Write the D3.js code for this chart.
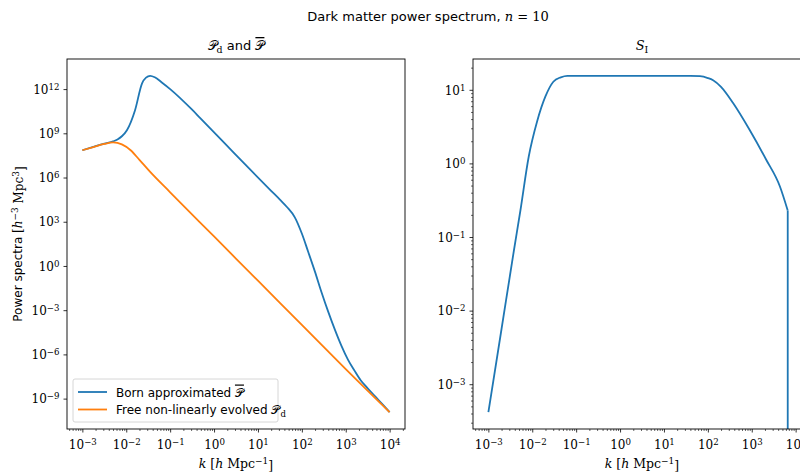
<!DOCTYPE html>
<html><head><meta charset="utf-8">
<script src="https://cdn.jsdelivr.net/npm/d3@7"></script>
<style>body{margin:0;background:#fff}svg{display:block}</style>
</head><body><div id="c"></div>
<script>
// ---- data (log10 values) ----
const bornLogK = [-3.0,-2.75,-2.5,-2.3,-2.2,-2.1,-1.985,-1.8,-1.64,-1.55,-1.455,-1.35,-1.19,-1.0,-0.5,-0.32,0.25,0.82,1.3,1.5,1.66,1.84,2.0,2.14,2.3,2.45,2.6,2.75,2.9,3.05,3.2,3.34,3.5,3.67,3.85,4.0];
const bornLogP = [7.85,8.08,8.3,8.45,8.58,8.8,9.21,10.57,12.39,12.78,12.9,12.8,12.45,12.0,10.6,10.05,8.3,6.55,5.1,4.5,4.0,3.3,2.2,1.0,-0.4,-1.8,-3.1,-4.3,-5.4,-6.35,-7.1,-7.75,-8.3,-8.85,-9.42,-9.92];
const freeLogK = [-3.0,-2.75,-2.5,-2.3,-2.1,-1.9,-1.7,-1.455,-1.0,0.0,1.0,2.0,3.0,4.0];
const freeLogP = [7.85,8.07,8.28,8.38,8.25,7.85,7.2,6.38,5.0,2.0,-1.0,-4.0,-7.0,-9.92];
const siLogK = [-3.0,-2.70,-2.42,-2.27,-2.08,-1.89,-1.70,-1.52,-1.35,-1.2,-1.0,0.0,1.0,1.6,1.82,2.0,2.12,2.3,2.575,2.95,3.33,3.64,3.82];
const siLogS = [-3.38,-2.25,-1.19,-0.64,0.094,0.57,0.91,1.11,1.17,1.19,1.19,1.19,1.19,1.19,1.185,1.16,1.13,1.04,0.82,0.457,0.05,-0.31,-0.64];
const siDropLogS = -8; // S_I collapses to ~0 beyond the last point
const xTickExps = [-3,-2,-1,0,1,2,3,4];
const leftYTickExps = [-9,-6,-3,0,3,6,9,12];
const rightYTickExps = [-3,-2,-1,0,1];
const seriesNames = ["Born approximated ", "Free non-linearly evolved "];
const colors = ["#1f77b4", "#ff7f0e"];

// ---- layout ----
const W = 800, H = 473;
const svg = d3.select("#c").append("svg").attr("width", W).attr("height", H)
  .style("font-family", "'DejaVu Sans', sans-serif");
const L = {x0: 67, x1: 405, y0: 59, y1: 429};
const R = {x0: 473, x1: 811, y0: 59, y1: 429};

function pad(lo, hi){ const m = (hi-lo)*0.05; return [Math.pow(10, lo-m), Math.pow(10, hi+m)]; }
const xDom = pad(-3, 4);
const allLeft = bornLogP.concat(freeLogP);
const xL = d3.scaleLog().domain(xDom).range([L.x0, L.x1]);
const yL = d3.scaleLog().domain(pad(d3.min(allLeft), d3.max(allLeft))).range([L.y1, L.y0]);
const xR = d3.scaleLog().domain(xDom).range([R.x0, R.x1]);
const yR = d3.scaleLog().domain(pad(d3.min(siLogS), d3.max(siLogS))).range([R.y1, R.y0]);

const serif = "'DejaVu Serif', serif";
const tickFS = 12;

function minorVals(dom){
  const out = [];
  const lo = Math.floor(Math.log10(dom[0])), hi = Math.ceil(Math.log10(dom[1]));
  for (let e = lo; e <= hi; e++) for (let m = 2; m <= 9; m++) {
    const v = m*Math.pow(10, e); if (v >= dom[0] && v <= dom[1]) out.push(v);
  }
  return out;
}
function expLabel(sel){
  sel.each(function(d){
    const t = d3.select(this); const e = Math.round(Math.log10(d));
    t.text(null).style("font-family", serif).style("font-size", tickFS+"px").attr("fill", "#000");
    t.append("tspan").text("10");
    t.append("tspan").attr("dy", "-0.45em").style("font-size", (tickFS*0.72)+"px")
      .text(e < 0 ? "\u2212" + (-e) : String(e));
  });
}

function drawAxes(box, x, y, yTicks, yMinor, clipId){
  const g = svg.append("g");
  g.append("clipPath").attr("id", clipId).append("rect")
    .attr("x", box.x0).attr("y", box.y0).attr("width", box.x1-box.x0).attr("height", box.y1-box.y0);
  g.append("g").attr("transform", `translate(0,${box.y1})`)
    .call(d3.axisBottom(x).tickValues(minorVals(x.domain())).tickSize(2).tickFormat(""))
    .call(s => s.select(".domain").remove()).selectAll("line").attr("stroke-width", 0.6);
  const xa = g.append("g").attr("transform", `translate(0,${box.y1})`)
    .call(d3.axisBottom(x).tickValues(xTickExps.map(e => Math.pow(10, e))).tickSize(3.5).tickPadding(4));
  xa.select(".domain").remove();
  xa.selectAll("line").attr("stroke-width", 0.8);
  xa.selectAll("text").call(expLabel).attr("dy", "1.05em");
  if (yMinor){
    g.append("g").attr("transform", `translate(${box.x0},0)`)
      .call(d3.axisLeft(y).tickValues(minorVals(y.domain())).tickSize(2).tickFormat(""))
      .call(s => s.select(".domain").remove()).selectAll("line").attr("stroke-width", 0.6);
  }
  const ya = g.append("g").attr("transform", `translate(${box.x0},0)`)
    .call(d3.axisLeft(y).tickValues(yTicks.map(e => Math.pow(10, e))).tickSize(3.5).tickPadding(4));
  ya.select(".domain").remove();
  ya.selectAll("line").attr("stroke-width", 0.8);
  ya.selectAll("text").call(expLabel).attr("dy", "0.35em");
  return g;
}
function frame(box){
  svg.append("rect").attr("x", box.x0).attr("y", box.y0).attr("width", box.x1-box.x0)
    .attr("height", box.y1-box.y0).attr("fill", "none").attr("stroke", "#000").attr("stroke-width", 0.9);
}

drawAxes(L, xL, yL, leftYTickExps, false, "clipL");
drawAxes(R, xR, yR, rightYTickExps, true, "clipR");

const lineL = d3.line().x(d => xL(Math.pow(10, d[0]))).y(d => yL(Math.pow(10, d[1]))).curve(d3.curveMonotoneX);
const gl = svg.append("g").attr("clip-path", "url(#clipL)");
gl.append("path").attr("d", lineL(d3.zip(bornLogK, bornLogP))).attr("fill", "none")
  .attr("stroke", colors[0]).attr("stroke-width", 1.8);
gl.append("path").attr("d", lineL(d3.zip(freeLogK, freeLogP))).attr("fill", "none")
  .attr("stroke", colors[1]).attr("stroke-width", 1.8);

const lineR = d3.line().x(d => xR(Math.pow(10, d[0]))).y(d => yR(Math.pow(10, d[1]))).curve(d3.curveMonotoneX);
const lineRlin = d3.line().x(d => xR(Math.pow(10, d[0]))).y(d => yR(Math.pow(10, d[1])));
const gr = svg.append("g").attr("clip-path", "url(#clipR)");
const siPts = d3.zip(siLogK, siLogS);
gr.append("path").attr("d", lineR(siPts)).attr("fill", "none").attr("stroke", colors[0]).attr("stroke-width", 1.8);
const last = siPts[siPts.length-1];
gr.append("path").attr("d", lineRlin([last, [last[0], siDropLogS]])).attr("fill", "none").attr("stroke", colors[0]).attr("stroke-width", 1.8);

frame(L); frame(R);

// ---- texts ----
const scriptP = "\uD835\uDCAB";
function barP(sel){
  sel.append("tspan").style("font-family", serif).style("text-decoration", "overline").text(scriptP);
}
// suptitle
const st = svg.append("text").attr("x", 428).attr("y", 21).attr("text-anchor", "middle").style("font-size", "13px");
st.append("tspan").text("Dark matter power spectrum, ");
st.append("tspan").style("font-family", serif).style("font-style", "italic").text("n");
st.append("tspan").style("font-family", serif).text(" = 10");

// left title
const t1 = svg.append("text").attr("x", (L.x0+L.x1)/2).attr("y", 50).attr("text-anchor", "middle").style("font-size", "13px");
t1.append("tspan").style("font-family", serif).text(scriptP);
t1.append("tspan").style("font-family", serif).style("font-size", "9.5px").attr("dy", "3").text("d");
t1.append("tspan").attr("dy", "-3").text(" and ");
barP(t1);
// right title
const t2 = svg.append("text").attr("x", (R.x0+R.x1)/2).attr("y", 50).attr("text-anchor", "middle").style("font-size", "13px").style("font-family", serif);
t2.append("tspan").style("font-style", "italic").text("S");
t2.append("tspan").style("font-size", "9.5px").attr("dy", "3").text("I");

// x labels
[L, R].forEach(b => {
  const xl = svg.append("text").attr("x", (b.x0+b.x1)/2).attr("y", 468).attr("text-anchor", "middle")
    .style("font-family", serif).style("font-size", "12.5px");
  xl.append("tspan").style("font-style", "italic").text("k");
  xl.append("tspan").text(" [");
  xl.append("tspan").style("font-style", "italic").text("h");
  xl.append("tspan").text(" Mpc");
  xl.append("tspan").attr("dy", "-0.45em").style("font-size", "9px").text("\u22121");
  xl.append("tspan").attr("dy", "0.45em").text("]");
});
// y label
const yl = svg.append("text").attr("transform", `translate(22,${(L.y0+L.y1)/2}) rotate(-90)`).attr("text-anchor", "middle").style("font-size", "12px");
yl.append("tspan").text("Power spectra ");
yl.append("tspan").style("font-family", serif).text("[");
yl.append("tspan").style("font-family", serif).style("font-style", "italic").text("h");
yl.append("tspan").style("font-family", serif).attr("dy", "-0.45em").style("font-size", "9px").text("\u22123");
yl.append("tspan").style("font-family", serif).attr("dy", "0.45em").text(" Mpc");
yl.append("tspan").style("font-family", serif).attr("dy", "-0.45em").style("font-size", "9px").text("3");
yl.append("tspan").style("font-family", serif).attr("dy", "0.45em").text("]");

// legend
const lg = svg.append("g");
lg.append("rect").attr("x", 73).attr("y", 379).attr("width", 205).attr("height", 43).attr("rx", 2)
  .attr("fill", "#fff").attr("fill-opacity", 0.8).attr("stroke", "#ccc").attr("stroke-width", 0.8);
seriesNames.forEach((n, i) => {
  const yy = 392 + i*17.5;
  lg.append("line").attr("x1", 78).attr("x2", 107).attr("y1", yy).attr("y2", yy).attr("stroke", colors[i]).attr("stroke-width", 1.8);
  const tx = lg.append("text").attr("x", 116).attr("y", yy+4.5).style("font-size", "12px");
  tx.append("tspan").text(n);
  if (i === 0) barP(tx);
  else { tx.append("tspan").style("font-family", serif).text(scriptP);
         tx.append("tspan").style("font-family", serif).style("font-size", "8.5px").attr("dy", "3").text("d"); }
});
</script></body></html>
